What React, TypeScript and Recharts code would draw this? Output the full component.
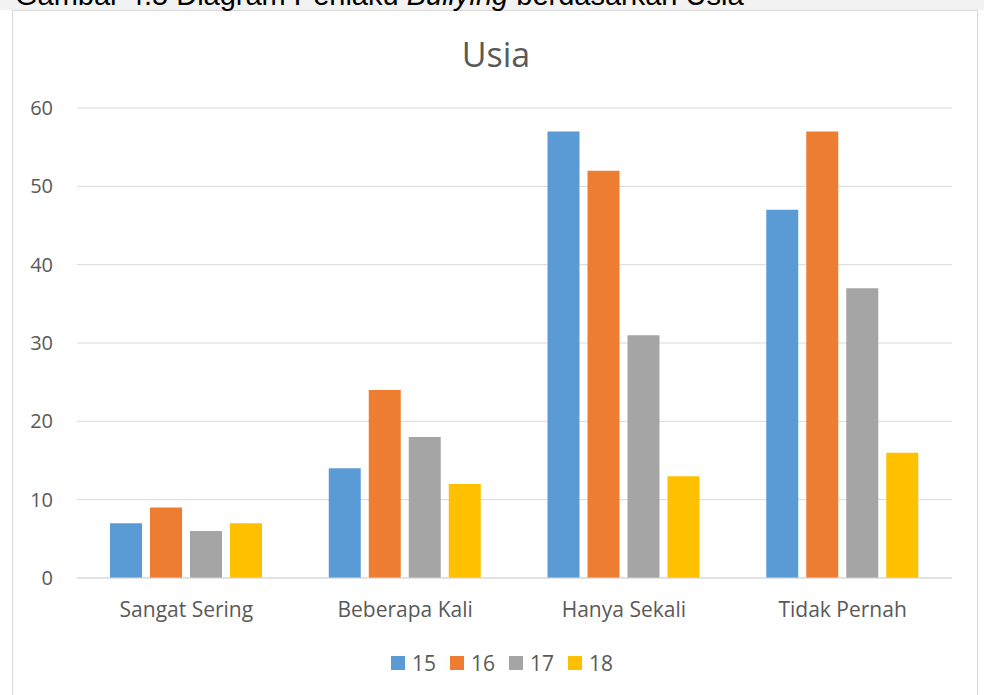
import React from 'react';
import { BarChart, Bar, XAxis, YAxis, CartesianGrid, Legend } from 'recharts';

const categories = ['Sangat Sering', 'Beberapa Kali', 'Hanya Sekali', 'Tidak Pernah'];
const usia15 = [7, 14, 57, 47];
const usia16 = [9, 24, 52, 57];
const usia17 = [6, 18, 31, 37];
const usia18 = [7, 12, 13, 16];
const yTicks = [0, 10, 20, 30, 40, 50, 60];
const seriesKeys = ['15', '16', '17', '18'];
const seriesColors = ['#5B9BD5', '#ED7D31', '#A5A5A5', '#FFC000'];

const data = categories.map((name, i) => ({
  name,
  '15': usia15[i],
  '16': usia16[i],
  '17': usia17[i],
  '18': usia18[i],
}));

const textColor = '#595959';
const font = '"Open Sans", sans-serif';

const LegendContent = () => (
  <div style={{ display: 'flex', alignItems: 'center', height: 24, fontFamily: font }}>
    {seriesKeys.map((k, i) => (
      <div key={k} style={{ display: 'flex', alignItems: 'center', marginRight: 14 }}>
        <span style={{ width: 14, height: 14, background: seriesColors[i], marginRight: 7, display: 'inline-block' }} />
        <span style={{ fontSize: 21, color: textColor, lineHeight: '24px' }}>{k}</span>
      </div>
    ))}
  </div>
);

export default function App() {
  return (
    <div style={{ position: 'absolute', left: 0, top: 0, width: 984, height: 695, overflow: 'hidden', background: '#fff' }}>
      <div style={{ position: 'absolute', left: 0, top: 0, width: 984, height: 10, background: '#f2f2f2' }} />
      <div
        style={{
          position: 'absolute',
          left: 12,
          top: 10,
          width: 964,
          height: 700,
          border: '1px solid #d9d9d9',
          background: '#fff',
        }}
      />
      <svg width={984} height={695} style={{ position: 'absolute', left: 0, top: 0 }}>
        <text x={15} y={5} fontFamily='"Liberation Sans", Arial, sans-serif' fontSize={29} fill="#000">
          Gambar 4.5 Diagram Perilaku <tspan fontStyle="italic">Bullying</tspan> berdasarkan Usia
        </text>
        <text x={496} y={67} textAnchor="middle" fontFamily={font} fontSize={34} fill={textColor}>
          Usia
        </text>
      </svg>
      <div style={{ position: 'absolute', left: 0, top: 0 }}>
        <BarChart
          width={984}
          height={695}
          data={data}
          margin={{ top: 108, right: 32, left: 0, bottom: 20 }}
          barCategoryGap={33}
          barGap={8}
        >
          <CartesianGrid vertical={false} stroke="#d9d9d9" />
          <XAxis
            dataKey="name"
            height={73}
            tickLine={false}
            axisLine={{ stroke: '#d9d9d9' }}
            tickMargin={18}
            tick={{ fill: textColor, fontSize: 21, fontFamily: font }}
          />
          <YAxis
            width={77}
            domain={[0, 60]}
            ticks={yTicks}
            tickLine={false}
            axisLine={false}
            tickMargin={18}
            tick={{ fill: textColor, fontSize: 20, fontFamily: font }}
          />
          <Legend
            verticalAlign="bottom"
            content={<LegendContent />}
            wrapperStyle={{ left: 391, top: 651, width: 300, height: 24 }}
          />
          {seriesKeys.map((k, i) => (
            <Bar key={k} dataKey={k} fill={seriesColors[i]} isAnimationActive={false} />
          ))}
        </BarChart>
      </div>
    </div>
  );
}
